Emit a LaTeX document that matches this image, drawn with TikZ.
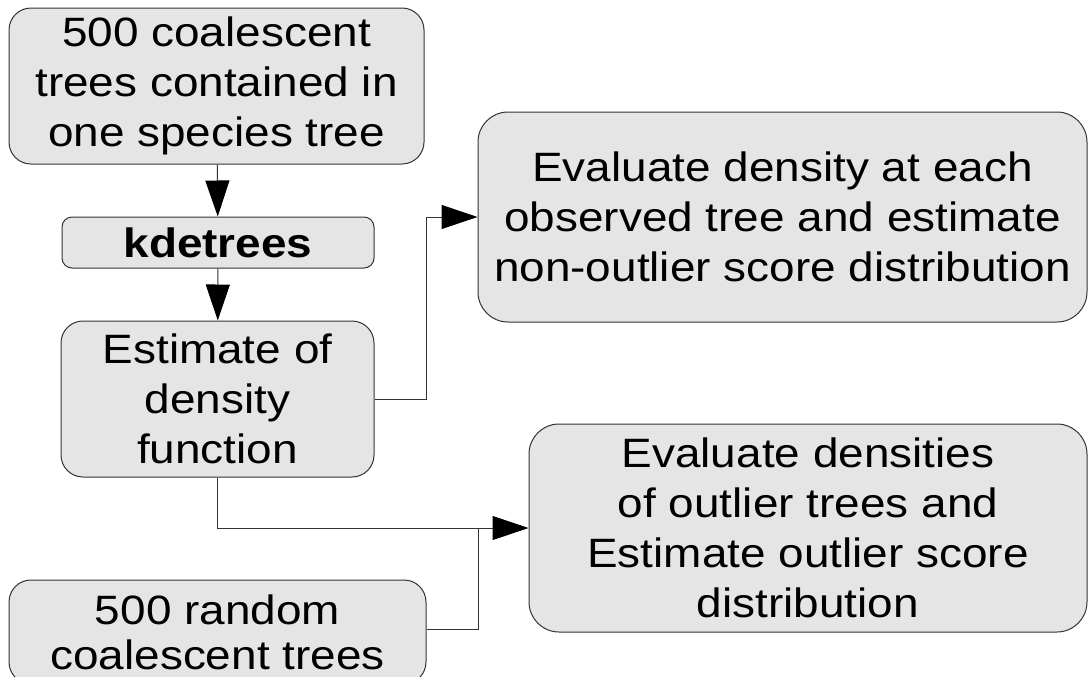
\documentclass[tikz,border=0pt]{standalone}
\usepackage{fontspec}
\setmainfont{Liberation Sans}[FakeStretch=1.12]
\usetikzlibrary{arrows.meta}

\begin{document}
\begin{tikzpicture}[x=0.5pt, y=-0.5pt]
    \tikzstyle{box} = [rectangle, draw=black!80, line width=0.5pt, fill=black!10, align=center, inner sep=0pt, font=\fontsize{20.5}{25}\selectfont]
    \tikzstyle{arrow} = [draw=black!80, line width=0.5pt, -{Triangle[length=18pt, width=12pt, black]}]
    \tikzstyle{line} = [draw=black!80, line width=0.5pt]

    \useasboundingbox (0,0) rectangle (1089,676);
    \clip (0,0) rectangle (1089,676);

    \node [box, minimum width=207.5pt, minimum height=78pt, rounded corners=11pt] (trees) at (216.5,86) {500 coalescent\\trees contained in\\ one species tree};
    \node [box, minimum width=156pt, minimum height=25.5pt, rounded corners=5pt, font=\fontsize{20.5}{25}\selectfont\bfseries] (kde) at (218,242.5) {kdetrees};
    \node [box, minimum width=156.5pt, minimum height=78pt, rounded corners=11pt] (est) at (217.5,399) {Estimate of\\density\\function};
    \node [box, minimum width=304.5pt, minimum height=105pt, rounded corners=15pt] (obs) at (782.5,217) {Evaluate density at each\\observed tree and estimate\\ non-outlier score distribution};
    \node [box, minimum width=279pt, minimum height=104pt, rounded corners=15pt] (outl) at (808,528) {Evaluate densities\\of outlier trees and\\Estimate outlier score\\distribution};
    \node [box, minimum width=208.5pt, minimum height=52pt, rounded corners=11pt, font=\fontsize{20.5}{22.5}\selectfont] (rnd) at (217.5,632) {500 random\\coalescent trees};

    % joints of the connectors
    \coordinate (j1) at (426,0);
    \coordinate (j2) at (478,0);

    \draw [arrow] (trees) -- (kde);
    \draw [arrow] (kde) -- (est);
    \draw [arrow] (est.east) -| (j1 |- obs.west) -- (obs.west);
    \draw [arrow] (est.south) |- (outl.west);
    \draw [line] ([yshift=1.5pt]rnd.east) -| (j2 |- outl.west);
\end{tikzpicture}
\end{document}
